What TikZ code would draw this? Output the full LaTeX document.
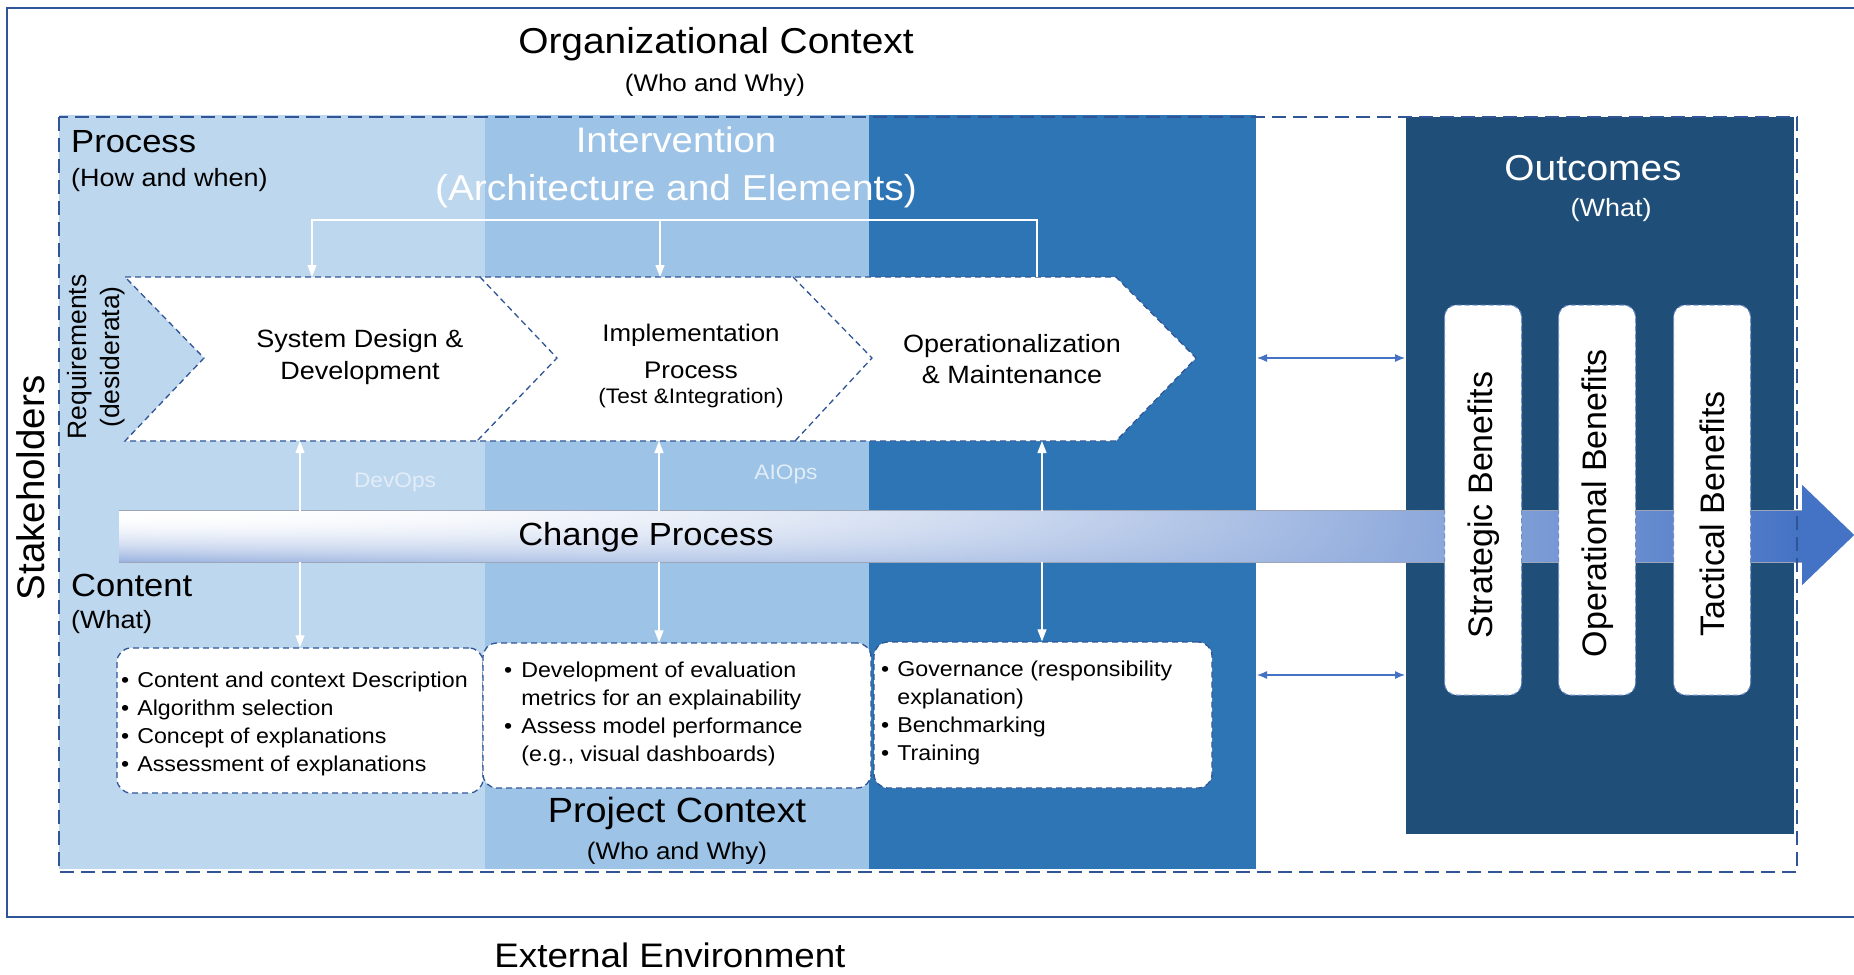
\documentclass[tikz,border=0pt]{standalone}
\usepackage{fontspec}
\setmainfont[FakeStretch=1.08]{Liberation Sans}
\newfontfamily\rotsans{Liberation Sans}
\usetikzlibrary{arrows.meta}
\definecolor{frameblue}{HTML}{2F5597}
\definecolor{colA}{HTML}{BDD7EE}
\definecolor{colB}{HTML}{9DC3E6}
\definecolor{colC}{HTML}{2E75B6}
\definecolor{colD}{HTML}{1F4E79}
\definecolor{accent}{HTML}{4472C4}
\definecolor{barline}{HTML}{9CA6B8}
\definecolor{opstext}{HTML}{E2EDF8}
\definecolor{benborder}{HTML}{6F8FC8}
\pgfdeclarefunctionalshading{barshade}{\pgfpointorigin}{\pgfpoint{100bp}{100bp}}{}{
  25 sub 50 div dup 0 lt {pop 0} if dup 1 gt {pop 1} if
  exch 25 sub 50 div dup 0 lt {pop 0} if dup 1 gt {pop 1} if
  dup dup mul
  2 index 1 exch sub dup mul
  2 index 1.25 mul 1 exch sub dup 0 lt {pop 0} if mul 0.55 mul
  1 index 1 exch sub mul add
  3 1 roll pop pop
  dup 0.733 mul 1 exch sub
  exch dup 0.553 mul 1 exch sub
  exch 0.231 mul 1 exch sub
}
\newcommand\fsz[2]{\fontsize{#1}{#2}\selectfont}
\begin{document}
\begin{tikzpicture}[x=1pt,y=-1pt,
  lbl/.style={inner sep=0, anchor=base},
  lblw/.style={inner sep=0, anchor=base west},
  chev/.style={draw=frameblue, line width=1.3pt, dash pattern=on 6pt off 4pt},
  cbox/.style={draw=frameblue, line width=1.3pt, dash pattern=on 6pt off 4pt, fill=white, rounded corners=14pt, inner sep=0},
  benbox/.style={draw=benborder, line width=1pt, dash pattern=on 5pt off 3pt, fill=white, rounded corners=12pt, minimum width=77pt, minimum height=390pt, inner sep=0},
  bentext/.style={inner sep=0, rotate=90, font=\rotsans\fsz{34}{40}},
  wline/.style={draw=white, line width=1.2pt},
  warrow/.style={wline, -{Triangle[width=9pt,length=12pt]}},
  barrow/.style={draw=accent, line width=1.2pt, {Latex[width=8pt,length=10pt]}-{Latex[width=8pt,length=10pt]}},
  boxtext/.style={lblw, font=\fsz{21.5}{28}}
]
\useasboundingbox (0,0) rectangle (1854,974);

% column backgrounds
\fill[colA] (59,115) rectangle (485,869);
\fill[colB] (485,115) rectangle (869,869);
\fill[colC] (869,115) rectangle (1256,869);
\fill[colD] (1406,117) rectangle (1794,834);

% change process bar
\node[inner sep=0, minimum width=1683pt, minimum height=51pt, shade, shading=barshade, shading angle=0] (bar) at (960.5,536.5) {};
\draw[barline, line width=1pt] (bar.north west) -- (bar.north east);
\draw[barline, line width=1pt] (bar.south west) -- (bar.south east);
\fill[accent] (bar.east) ++(0,-51.5) -- ++(52,50) -- ++(-52,50) -- cycle;

% benefit boxes
\node[benbox] (ben1) at (1483,500) {};
\node[benbox] (ben2) at (1597,500) {};
\node[benbox] (ben3) at (1712,500) {};
\node[bentext] (bt1) at (1484,505) {Strategic Benefits};
\node[bentext] (bt2) at (1598,503) {Operational Benefits};
\node[bentext] (bt3) at (1712,514) {Tactical Benefits};

% chevron band
\draw[chev, fill=white] (125,277) -- (1116,277) -- (1196,358) -- (1116,441) -- (125,441) -- (204,358) -- cycle;
\draw[chev] (480,277) -- (557,358) -- (477,441);
\draw[chev] (793,277) -- (872,358) -- (795,441);

% content boxes
\node[cbox, minimum width=366pt, minimum height=145pt] (cb1) at (300,720.5) {};
\node[cbox, minimum width=388pt, minimum height=145pt] (cb2) at (677,715.5) {};
\node[cbox, minimum width=338pt, minimum height=146pt] (cb3) at (1043,715) {};

% top white connector
\coordinate (t1) at (312,277);
\coordinate (t2) at (660,277);
\coordinate (t3) at (1037,277);
\coordinate (j2) at (660,220);
\draw[warrow] (t3) -- ++(0,-57) -| (t1);
\draw[warrow] (j2) -- (t2);

% vertical arrows chevron <-> bar <-> content
\coordinate (b1) at (300,441);
\coordinate (b2) at (659,441);
\coordinate (b3) at (1042,441);
\draw[warrow] (b1 |- bar.north) -- (b1);
\draw[warrow] (b2 |- bar.north) -- (b2);
\draw[warrow] (b3 |- bar.north) -- (b3);
\draw[warrow] (b1 |- bar.south) -- (b1 |- cb1.north);
\draw[warrow] (b2 |- bar.south) -- (b2 |- cb2.north);
\draw[warrow] (b3 |- bar.south) -- (b3 |- cb3.north);

% blue double arrows
\coordinate (cr1) at (1257,358);
\coordinate (ol1) at (1405,358);
\coordinate (cr2) at (1257,675);
\coordinate (ol2) at (1405,675);
\draw[barrow] (cr1) -- (ol1);
\draw[barrow] (cr2) -- (ol2);

% texts
\node[lbl, font=\fsz{36}{42}] (org) at (716,53) {Organizational Context};
\node[lbl, font=\fsz{24}{30}] (orgsub) at (715,91) {(Who and Why)};
\node[lblw, font=\fsz{32}{38}] (proc) at (71,152) {Process};
\node[lblw, font=\fsz{25}{30}] (procsub) at (71,186) {(How and when)};
\node[lbl, font=\fsz{35.5}{42}, text=white] (interv) at (676,152) {Intervention};
\node[lbl, font=\fsz{36}{42}, text=white] (intervsub) at (676,200) {(Architecture and Elements)};
\node[lbl, font=\fsz{36}{42}, text=white] (outc) at (1593,180) {Outcomes};
\node[lbl, font=\fsz{25}{30}, text=white] (outcsub) at (1611,216) {(What)};
\node[inner sep=0, rotate=90, font=\rotsans\fsz{38.5}{44}] (stake) at (31,488) {Stakeholders};
\node[inner sep=0, rotate=90, align=center, font=\rotsans\fsz{26.5}{33}] (req) at (96,357) {Requirements\\(desiderata)};

\node[lbl, font=\fsz{25}{30}] (sd1) at (360,347) {System Design \&};
\node[lbl, font=\fsz{25}{30}] (sd2) at (360,379) {Development};
\node[lbl, font=\fsz{24}{30}] (im1) at (691,341) {Implementation};
\node[lbl, font=\fsz{24}{30}] (im2) at (691,378) {Process};
\node[lbl, font=\fsz{21}{26}] (im3) at (691,403) {(Test \&Integration)};
\node[lbl, font=\fsz{25}{30}] (op1) at (1012,352) {Operationalization};
\node[lbl, font=\fsz{25}{30}] (op2) at (1012,383) {\& Maintenance};

\node[lbl, font=\fsz{21}{26}, text=opstext] (devops) at (395,487) {DevOps};
\node[lbl, font=\fsz{21}{26}, text=opstext] (aiops) at (786,479) {AIOps};
\node[lbl, font=\fsz{32}{38}] (chg) at (646,545) {Change Process};

\node[lblw, font=\fsz{32}{38}] (cont) at (71,596) {Content};
\node[lblw, font=\fsz{25}{30}] (contsub) at (71,628) {(What)};

\node[boxtext] (ct1) at (121,687) {\begin{tabular}[t]{@{}l@{\hspace{8pt}}l@{}}•&Content and context Description\\•&Algorithm selection\\•&Concept of explanations\\•&Assessment of explanations\end{tabular}};
\node[boxtext] (ct2) at (504,677) {\begin{tabular}[t]{@{}l@{\hspace{9pt}}l@{}}•&Development of evaluation\\&metrics for an explainability\\•&Assess model performance\\&(e.g., visual dashboards)\end{tabular}};
\node[boxtext] (ct3) at (881,676) {\begin{tabular}[t]{@{}l@{\hspace{8pt}}l@{}}•&Governance (responsibility\\&explanation)\\•&Benchmarking\\•&Training\end{tabular}};

\node[lbl, font=\fsz{35}{42}] (proj) at (677,822) {Project Context};
\node[lbl, font=\fsz{24}{30}] (projsub) at (677,859) {(Who and Why)};
\node[lbl, font=\fsz{34}{40}] (ext) at (670,967) {External Environment};

% outer dashed box and frame (open to the right)
\draw[frameblue, line width=2pt, dash pattern=on 14pt off 7pt] (59,117) rectangle (1797,872);
\draw[frameblue, line width=2pt] (1854,8) -- (7,8) -- (7,917) -- (1854,917);
\end{tikzpicture}
\end{document}
